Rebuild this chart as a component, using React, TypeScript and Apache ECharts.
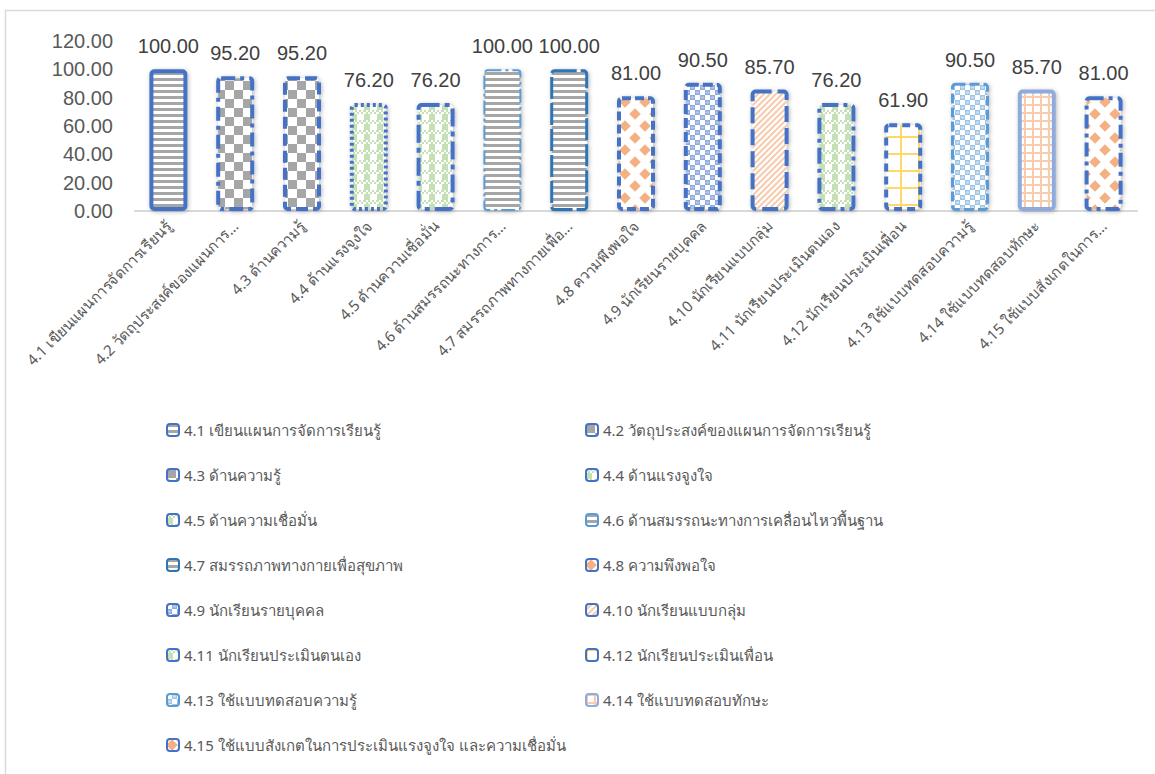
import React, { useEffect, useRef } from "react";
import * as echarts from "echarts";

// Category names (full text, shown in the legend)
const categories: string[] = [
  "4.1 เขียนแผนการจัดการเรียนรู้",
  "4.2 วัตถุประสงค์ของแผนการจัดการเรียนรู้",
  "4.3 ด้านความรู้",
  "4.4 ด้านแรงจูงใจ",
  "4.5 ด้านความเชื่อมั่น",
  "4.6 ด้านสมรรถนะทางการเคลื่อนไหวพื้นฐาน",
  "4.7 สมรรถภาพทางกายเพื่อสุขภาพ",
  "4.8 ความพึงพอใจ",
  "4.9 นักเรียนรายบุคคล",
  "4.10 นักเรียนแบบกลุ่ม",
  "4.11 นักเรียนประเมินตนเอง",
  "4.12 นักเรียนประเมินเพื่อน",
  "4.13 ใช้แบบทดสอบความรู้",
  "4.14 ใช้แบบทดสอบทักษะ",
  "4.15 ใช้แบบสังเกตในการประเมินแรงจูงใจ และความเชื่อมั่น",
];

// Shortened tick labels for the category axis
const tickLabels: string[] = [
  "4.1 เขียนแผนการจัดการเรียนรู้",
  "4.2 วัตถุประสงค์ของแผนการ…",
  "4.3 ด้านความรู้",
  "4.4 ด้านแรงจูงใจ",
  "4.5 ด้านความเชื่อมั่น",
  "4.6 ด้านสมรรถนะทางการ…",
  "4.7 สมรรถภาพทางกายเพื่อ…",
  "4.8 ความพึงพอใจ",
  "4.9 นักเรียนรายบุคคล",
  "4.10 นักเรียนแบบกลุ่ม",
  "4.11 นักเรียนประเมินตนเอง",
  "4.12 นักเรียนประเมินเพื่อน",
  "4.13 ใช้แบบทดสอบความรู้",
  "4.14 ใช้แบบทดสอบทักษะ",
  "4.15 ใช้แบบสังเกตในการ…",
];

// Percentage per category
const values: number[] = [
  100.0, 95.2, 95.2, 76.2, 76.2, 100.0, 100.0, 81.0, 90.5, 85.7, 76.2, 61.9, 90.5, 85.7, 81.0,
];

// Y axis ticks
const yTicks: number[] = [0, 20, 40, 60, 80, 100, 120];

// Fill pattern name per bar
const fills: string[] = [
  "stripes", "checker", "checker", "plaid", "plaid", "stripes", "stripes", "diamonds",
  "spheres", "diagonal", "plaid", "yellowGrid", "lightSpheres", "orangeGrid", "diamonds",
];

// Border dash pattern per bar (null = solid)
const borderDashes: (number[] | null)[] = [
  null, [14, 5, 4, 5], [12, 5], [3, 3], [18, 5, 5, 5], [14, 4, 3, 4], [22, 4], [9, 4],
  [10, 4], [16, 6], [16, 5, 4, 5], [8, 5], [10, 4], null, [14, 5, 4, 5],
];

const borderColors: string[] = [
  "#4472c4", "#4472c4", "#4472c4", "#4472c4", "#4472c4", "#5b9bd5", "#2e75b6", "#4472c4",
  "#4472c4", "#4472c4", "#4472c4", "#4472c4", "#5b9bd5", "#8faadc", "#4472c4",
];

const borderWidths: number[] = [4, 4, 4, 4, 4, 2, 3, 4, 4, 4, 4, 4, 3, 4, 4];

function tile(w: number, h: number, draw: (ctx: CanvasRenderingContext2D) => void) {
  const c = document.createElement("canvas");
  c.width = w;
  c.height = h;
  const ctx = c.getContext("2d")!;
  ctx.fillStyle = "#ffffff";
  ctx.fillRect(0, 0, w, h);
  draw(ctx);
  return { image: c, repeat: "repeat", imageWidth: w, imageHeight: h } as any;
}

function diamond(ctx: CanvasRenderingContext2D, cx: number, cy: number, r: number) {
  ctx.beginPath();
  ctx.moveTo(cx, cy - r);
  ctx.lineTo(cx + r, cy);
  ctx.lineTo(cx, cy + r);
  ctx.lineTo(cx - r, cy);
  ctx.closePath();
  ctx.fill();
}

function sphereTile(base: string, glint: string) {
  return tile(10, 10, (ctx) => {
    ctx.fillStyle = base;
    ctx.fillRect(0, 0, 10, 10);
    ctx.fillStyle = "#ffffff";
    ctx.fillRect(0, 0, 5, 5);
    ctx.fillRect(5, 5, 5, 5);
    ctx.fillStyle = glint;
    ctx.beginPath();
    ctx.ellipse(7.5, 2.5, 1.8, 1.2, 0, 0, Math.PI * 2);
    ctx.fill();
    ctx.beginPath();
    ctx.ellipse(2.5, 7.5, 1.8, 1.2, 0, 0, Math.PI * 2);
    ctx.fill();
  });
}

function buildPatterns(): Record<string, any> {
  const gray = "#a6a6a6";
  const green = "#c5e0b4";
  const orange = "#f4b183";
  const lightOrange = "#f8cbad";
  return {
    stripes: tile(6, 6, (ctx) => {
      ctx.fillStyle = gray;
      ctx.fillRect(0, 0, 6, 3);
    }),
    checker: tile(18, 18, (ctx) => {
      ctx.fillStyle = gray;
      ctx.fillRect(0, 0, 9, 9);
      ctx.fillRect(9, 9, 9, 9);
    }),
    plaid: tile(13, 10, (ctx) => {
      ctx.fillStyle = green;
      ctx.fillRect(0, 0, 6, 10);
      for (let x = 0; x < 13; x += 2) {
        for (let y = 0; y < 4; y += 2) {
          const on = (x / 2 + y / 2) % 2 === 0;
          ctx.fillStyle = on ? green : "#ffffff";
          ctx.fillRect(x, y, 2, 2);
        }
      }
    }),
    diamonds: tile(20, 24, (ctx) => {
      ctx.fillStyle = orange;
      // staggered diamonds, with wrapped copies so the tile repeats seamlessly
      for (const [cx, cy] of [[5, 6], [15, 18]]) {
        for (const dx of [-20, 0, 20]) {
          for (const dy of [-24, 0, 24]) diamond(ctx, cx + dx, cy + dy, 5.8);
        }
      }
    }),
    spheres: sphereTile("#8faadc", "#b4c7e7"),
    lightSpheres: sphereTile("#9dc3e6", "#c9dff2"),
    diagonal: tile(6, 6, (ctx) => {
      ctx.strokeStyle = lightOrange;
      ctx.lineWidth = 2;
      ctx.beginPath();
      ctx.moveTo(-1, 7);
      ctx.lineTo(7, -1);
      ctx.moveTo(-4, 4);
      ctx.lineTo(4, -4);
      ctx.moveTo(2, 10);
      ctx.lineTo(10, 2);
      ctx.stroke();
    }),
    yellowGrid: tile(18, 17, (ctx) => {
      ctx.fillStyle = "#ffd966";
      ctx.fillRect(0, 0, 18, 2);
      ctx.fillRect(0, 0, 2, 17);
    }),
    orangeGrid: tile(8, 8, (ctx) => {
      ctx.fillStyle = lightOrange;
      ctx.fillRect(0, 0, 8, 2);
      ctx.fillRect(0, 0, 2, 8);
    }),
  };
}

export default function App() {
  const ref = useRef<HTMLDivElement>(null);

  useEffect(() => {
    if (!ref.current) return;
    const chart = echarts.init(ref.current, null, { renderer: "svg" });
    const patterns = buildPatterns();

    const series = categories.map((name, i) => ({
      name,
      type: "bar",
      barWidth: 38,
      barGap: "-100%",
      data: values.map((v, j) => (j === i ? v : "-")),
      itemStyle: {
        color: patterns[fills[i]],
        borderColor: borderColors[i],
        borderWidth: borderWidths[i],
        borderType: borderDashes[i] ? borderDashes[i] : "solid",
        borderRadius: 3,
        shadowBlur: 4,
        shadowColor: "rgba(0,0,0,0.28)",
        shadowOffsetX: 1,
        shadowOffsetY: 1,
      },
      label: {
        show: true,
        position: "top",
        distance: 13,
        color: "#404040",
        fontSize: 20,
        fontFamily: "Liberation Sans, Arial, sans-serif",
        formatter: (p: any) => Number(p.value).toFixed(2),
      },
      emphasis: { disabled: true },
    }));

    const leftNames = categories.filter((_, i) => i % 2 === 0);
    const rightNames = categories.filter((_, i) => i % 2 === 1);
    const legendBase = {
      orient: "vertical",
      top: 420,
      padding: 0,
      itemWidth: 12,
      itemHeight: 12,
      itemGap: 25,
      selectedMode: false,
      textStyle: {
        color: "#595959",
        fontSize: 15,
        lineHeight: 20,
        fontFamily: "Noto Sans, Liberation Sans, sans-serif",
      },
    };

    chart.setOption({
      animation: false,
      backgroundColor: "#ffffff",
      grid: { left: 135, right: 18, top: 41, bottom: 563, containLabel: false },
      xAxis: {
        type: "category",
        data: categories,
        axisLine: { lineStyle: { color: "#d9d9d9", width: 2 } },
        axisTick: { show: false },
        axisLabel: {
          rotate: 45,
          interval: 0,
          margin: 12,
          color: "#595959",
          fontSize: 15,
          fontFamily: "Noto Sans, Liberation Sans, sans-serif",
          formatter: (_: string, idx: number) => tickLabels[idx],
        },
      },
      yAxis: {
        type: "value",
        min: yTicks[0],
        max: yTicks[yTicks.length - 1],
        interval: 20,
        axisLine: { show: false },
        axisTick: { show: false },
        splitLine: { show: false },
        axisLabel: {
          margin: 22,
          color: "#595959",
          fontSize: 20,
          fontFamily: "Liberation Sans, Arial, sans-serif",
          formatter: (v: number) => v.toFixed(2),
        },
      },
      legend: [
        { ...legendBase, left: 166, data: leftNames },
        { ...legendBase, left: 585, data: rightNames },
      ],
      graphic: [
        {
          type: "rect",
          silent: true,
          shape: { x: 5.5, y: 10.5, width: 1170, height: 800 },
          style: { fill: "none", stroke: "#d9d9d9", lineWidth: 1.5 },
        },
      ],
      series,
    } as any);

    return () => chart.dispose();
  }, []);

  return (
    <div
      ref={ref}
      style={{ position: "absolute", left: 0, top: 0, width: 1155, height: 774 }}
    />
  );
}
